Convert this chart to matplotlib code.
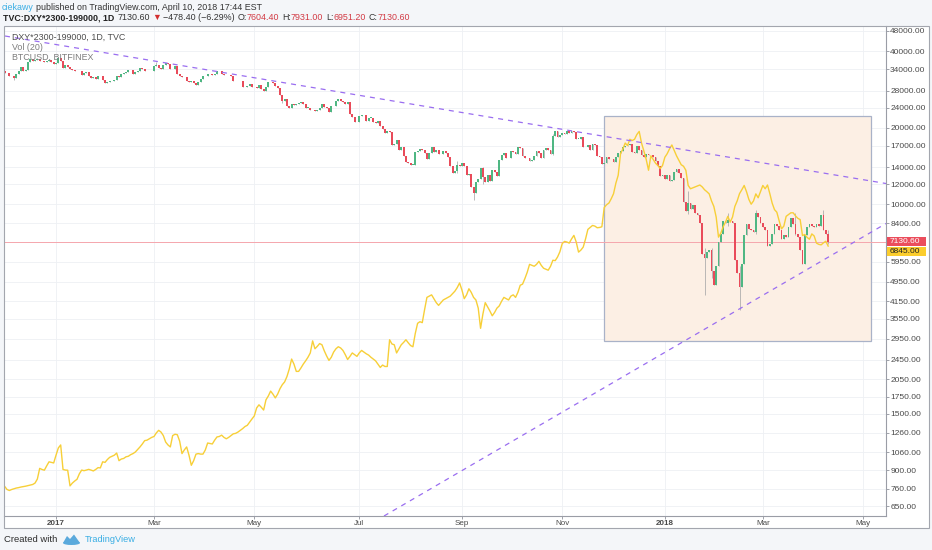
import numpy as np
import pandas as pd
import matplotlib
matplotlib.use('Agg')
import matplotlib.pyplot as plt
from matplotlib.patches import Rectangle, Polygon, Ellipse
from matplotlib.ticker import NullLocator

# ---------------- data (weekday bars, TVC:DXY and BTCUSD Bitfinex) ----------------
bar_start, bar_end = '2016-12-01', '2018-04-10'

# DXY daily closes (the chart plots DXY*2300-199000)
dxy_dec16 = [100.85, 100.75, 100.45, 100.35, 100.15, 100.60, 101.00, 101.60, 101.10, 101.20, 102.25,
             102.70, 102.45, 102.55, 102.70, 102.45, 102.40, 102.35, 102.40, 102.60, 102.30, 101.95]
dxy_jan17 = [102.20, 102.80, 102.40, 101.40, 101.90, 101.60, 101.30, 101.20, 101.00, 101.10, 101.00,
             100.50, 100.80, 100.90, 100.40, 100.20, 100.30, 100.00, 100.40, 100.40, 99.90, 99.55]
dxy_feb17 = [99.70, 99.80, 99.85, 99.90, 100.40, 100.25, 100.70, 100.80, 100.95, 101.20, 101.15,
             100.70, 100.90, 101.00, 101.40, 101.30, 101.00, 101.10, 101.00, 101.10]
dxy_mar17 = [101.75, 101.90, 101.50, 101.30, 101.80, 102.20, 102.00, 101.30, 101.25, 101.70, 100.60,
             100.35, 100.30, 100.30, 99.75, 99.70, 99.75, 99.60, 99.30, 99.65, 100.05, 100.35, 100.35]
dxy_apr17 = [100.60, 100.70, 100.55, 100.70, 101.10, 101.00, 100.60, 100.50, 100.55, 100.55, 100.40,
             99.80, 99.80, 99.75, 99.80, 99.10, 99.05, 99.20, 99.45, 99.05]
dxy_may17 = [99.10, 99.00, 99.35, 98.85, 98.60, 99.05, 99.65, 99.70, 99.60, 99.20, 98.95, 98.20,
             97.55, 97.80, 97.15, 96.95, 97.30, 97.20, 97.25, 97.40, 97.45, 97.30, 96.95]
dxy_jun17 = [96.95, 96.75, 96.70, 96.60, 96.70, 96.95, 97.25, 97.00, 96.95, 96.55, 97.10, 97.15,
             97.55, 97.75, 97.55, 97.45, 97.25, 97.45, 96.40, 96.10, 95.65, 95.65]
dxy_jul17 = [96.20, 96.25, 96.30, 95.80, 96.05, 96.05, 95.70, 95.60, 95.75, 95.35, 95.15, 94.80,
             94.95, 94.85, 93.95, 94.00, 94.30, 93.65, 93.85, 93.25, 92.90]
dxy_aug17 = [92.85, 92.75, 92.75, 93.50, 93.55, 93.70, 93.60, 93.45, 93.05, 93.45, 93.80, 93.50,
             93.60, 93.40, 93.35, 93.55, 93.45, 93.20, 92.65, 92.30, 92.40, 92.75, 92.65]
dxy_sep17 = [92.85, 92.65, 92.20, 92.25, 91.60, 91.35, 91.85, 92.00, 92.55, 92.10, 91.85, 92.20,
             91.90, 92.45, 92.35, 92.15, 93.00, 93.30, 93.45, 93.10, 93.10]
dxy_oct17 = [93.55, 93.50, 93.35, 93.85, 93.75, 93.25, 93.10, 93.15, 92.95, 93.00, 93.25, 93.55,
             93.45, 93.15, 93.65, 93.75, 93.65, 93.35, 94.60, 94.95, 94.50, 94.65]
dxy_nov17 = [94.80, 94.75, 94.95, 94.80, 94.95, 94.90, 94.40, 94.40, 94.50, 93.80, 93.85, 93.95,
             93.65, 94.00, 93.95, 93.25, 93.20, 92.80, 92.85, 93.20, 93.05, 93.05]
dxy_dec17 = [92.90, 93.20, 93.45, 93.55, 93.85, 93.90, 93.95, 94.05, 93.50, 93.45, 93.90, 93.60,
             93.30, 93.20, 93.40, 93.30, 93.30, 93.20, 92.95, 92.65, 92.15]
dxy_jan18 = [92.20, 92.00, 92.20, 91.90, 91.95, 92.35, 92.50, 92.30, 92.05, 90.95, 90.60, 90.90,
             90.70, 90.85, 90.55, 90.45, 90.20, 89.30, 89.20, 89.35, 89.40, 88.90, 88.62]
dxy_feb18 = [89.00, 89.60, 89.85, 90.25, 90.20, 90.30, 90.25, 90.20, 89.15, 88.85, 88.58, 89.05,
             89.80, 90.15, 90.00, 89.95, 89.90, 90.55, 90.40, 90.20]
dxy_mar18 = [90.05, 89.95, 89.50, 89.55, 89.85, 90.15, 90.10, 89.95, 89.70, 89.80, 89.75, 90.05,
             90.35, 90.15, 89.85, 89.75, 89.40, 89.05, 89.80, 90.05, 90.15, 90.10]
dxy_apr18 = [90.05, 90.15, 90.10, 90.45, 89.95, 89.83, 89.622]
dxy_first_open = 101.00
# visible wick extremes (date: (high, low)) in DXY units
dxy_wicks = {
    '2016-12-07': (100.40, 99.95), '2017-01-03': (103.00, 102.20), '2017-03-02': (102.25, 101.70),
    '2017-05-17': (98.20, 97.35), '2017-08-30': (92.95, 92.30), '2017-09-08': (91.60, 91.05),
    '2017-09-14': (92.60, 91.75), '2017-10-26': (94.70, 93.30), '2018-01-16': (91.40, 90.50),
    '2018-01-25': (89.45, 88.44), '2018-01-30': (89.45, 88.75), '2018-02-08': (90.55, 90.10),
    '2018-02-15': (89.00, 88.19), '2018-02-26': (90.65, 89.85), '2018-03-21': (90.55, 89.80),
    '2018-04-06': (90.65, 90.00), '2018-04-10': (89.97, 89.544),
}

# BTCUSD closes on the same bars
btc_dec16 = [776, 755, 748, 755, 760, 765, 768, 772, 775, 778, 782, 786, 790, 800, 830, 914, 905, 899,
             935, 970, 965, 960]
btc_jan17 = [1030, 1100, 1130, 905, 900, 899, 780, 800, 815, 828, 870, 900, 895, 900, 906, 900, 893,
             905, 920, 918, 970, 965]
btc_feb17 = [990, 1010, 1020, 1030, 1050, 980, 995, 1000, 1015, 1020, 1035, 1045, 1060, 1085, 1110,
             1140, 1175, 1180, 1195, 1210]
btc_mar17 = [1220, 1260, 1290, 1270, 1230, 1160, 1130, 1110, 1230, 1245, 1240, 1170, 1045, 1080, 1110,
             1030, 940, 980, 1040, 1045, 1040, 1040, 1080]
btc_apr17 = [1150, 1145, 1140, 1180, 1215, 1220, 1235, 1210, 1195, 1210, 1230, 1250, 1255, 1270, 1290,
             1310, 1335, 1350, 1390, 1430]
btc_may17 = [1470, 1580, 1625, 1590, 1550, 1700, 1760, 1840, 1790, 1730, 1790, 1880, 1950, 2000, 2100,
             2250, 2460, 2350, 2200, 2200, 2270, 2350, 2420]
btc_jun17 = [2500, 2600, 2900, 2700, 2760, 2830, 2800, 2650, 2530, 2430, 2500, 2620, 2700, 2750, 2720,
             2660, 2560, 2450, 2520, 2600, 2560, 2520]
btc_jul17 = [2600, 2660, 2620, 2580, 2550, 2500, 2460, 2420, 2350, 2280, 2330, 2300, 2300, 2930, 2820,
             2800, 2600, 2700, 2800, 2860, 2930]
btc_aug17 = [2850, 2780, 2750, 3100, 3400, 3450, 3420, 3850, 4300, 4350, 4400, 4250, 4100, 4000, 4100,
             4200, 4250, 4300, 4350, 4450, 4550, 4700, 4900]
btc_sep17 = [4600, 4250, 4400, 4650, 4500, 4300, 4200, 3900, 3250, 3700, 4100, 3950, 3800, 3640, 3750,
             3900, 3980, 4150, 4300, 4250, 4200]
btc_oct17 = [4350, 4400, 4300, 4500, 4800, 4850, 5100, 5400, 5800, 5750, 5700, 5800, 5960, 5750, 5600,
             5550, 5500, 5700, 6020, 6000, 6200, 6500]
btc_nov17 = [7000, 7140, 7100, 7030, 7300, 7540, 7100, 6480, 6600, 6780, 7300, 7960, 8100, 8250, 8200,
             8080, 8100, 8150, 9700, 9950, 10100, 10500]
btc_dec17 = [11000, 12100, 13000, 15800, 16500, 17400, 17000, 18000, 17800, 18000, 18800, 19330, 17400,
             16200, 15000, 13600, 15500, 15000, 14500, 14200, 13800]
btc_jan18 = [14200, 15300, 15800, 16500, 17100, 16300, 15500, 14900, 14300, 14100, 13600, 11850, 11500,
             11600, 11700, 11800, 11900, 11700, 11400, 11200, 10980, 10300, 9800]
btc_feb18 = [8900, 7420, 7700, 8150, 8500, 8960, 8500, 8900, 9800, 10300, 11000, 11400, 11850, 11200,
             10450, 10000, 10300, 10980, 10600, 11200]
btc_mar18 = [11850, 11500, 11900, 11000, 10100, 9520, 9300, 8600, 8000, 8200, 8960, 9100, 9250, 9250,
             9000, 8800, 8700, 7530, 7600, 7400, 7280, 7640]
btc_apr18 = [7500, 7030, 6950, 6920, 7050, 7150, 6845]

tick_dates = ['2017-01-02', '2017-03-01', '2017-05-01', '2017-07-03', '2017-09-01', '2017-11-01',
              '2018-01-02', '2018-03-01', '2018-05-01']
tick_labels = ['2017', 'Mar', 'May', 'Jul', 'Sep', 'Nov', '2018', 'Mar', 'May']
price_ticks = [48000, 40000, 34000, 28000, 24000, 20000, 17000, 14000, 12000, 10000, 8400, 5950, 4950,
               4150, 3550, 2950, 2450, 2050, 1750, 1500, 1260, 1060, 900, 760, 650]
last_close = 7130.60
btc_last = 6845.00

# drawings: (bar index, price)
upper_trend = [(0.13, 45870), (377.8, 12060)]
lower_trend = [(162.6, 593.8), (377.8, 8394)]
box_corners = [(256.9, 2885), (371.3, 22224)]

# ---------------- build ----------------
dxy_close = (dxy_dec16 + dxy_jan17 + dxy_feb17 + dxy_mar17 + dxy_apr17 + dxy_may17 + dxy_jun17 +
             dxy_jul17 + dxy_aug17 + dxy_sep17 + dxy_oct17 + dxy_nov17 + dxy_dec17 + dxy_jan18 +
             dxy_feb18 + dxy_mar18 + dxy_apr18)
btc_close = (btc_dec16 + btc_jan17 + btc_feb17 + btc_mar17 + btc_apr17 + btc_may17 + btc_jun17 +
             btc_jul17 + btc_aug17 + btc_sep17 + btc_oct17 + btc_nov17 + btc_dec17 + btc_jan18 +
             btc_feb18 + btc_mar18 + btc_apr18)

all_days = pd.bdate_range(bar_start, '2018-06-29')
bars = pd.bdate_range(bar_start, bar_end)
n = len(bars)
assert len(dxy_close) == n and len(btc_close) == n, (len(dxy_close), len(btc_close), n)


def syn(v):
    return np.asarray(v, dtype=float) * 2300 - 199000


c = syn(dxy_close)
o = np.r_[syn(dxy_first_open), c[:-1]]
hi = np.maximum(o, c)
lo = np.minimum(o, c)
for d, (h, l) in dxy_wicks.items():
    i = bars.get_loc(pd.Timestamp(d))
    hi[i] = max(hi[i], syn(h))
    lo[i] = min(lo[i], syn(l))
x = np.arange(n)
up = c >= o

W, H = 932, 550
FONT = ['Liberation Sans', 'DejaVu Sans']
plt.rcParams['font.family'] = FONT


def FX(px):
    return px / W


def FY(py):
    return 1 - py / H


fig = plt.figure(figsize=(W / 100, H / 100), dpi=100)
fig.patch.set_facecolor('#f4f6f9')

# chart frame background
fig.patches.append(Rectangle((FX(4), FY(528)), (929 - 4) / W, (528 - 26) / H, transform=fig.transFigure,
                             facecolor='white', edgecolor='none', zorder=-5))

ax = fig.add_axes([FX(4), FY(516), (886 - 4) / W, (516 - 26) / H])
ax.patch.set_alpha(0)
ax.set_yscale('log')
ax.set_ylim(593.8, 50220)
ax.set_xlim(-0.3, 377.8)

tick_x = [all_days.get_loc(pd.Timestamp(d)) for d in tick_dates]
ax.set_xticks(tick_x)
ax.set_xticklabels(tick_labels)
ax.set_yticks(price_ticks)
ax.set_yticklabels([f'{v:.2f}' for v in price_ticks])
ax.yaxis.set_minor_locator(NullLocator())
ax.xaxis.set_minor_locator(NullLocator())
ax.yaxis.tick_right()
ax.grid(True, color='#eef0f4', lw=0.6, zorder=0)
ax.set_axisbelow(True)
ax.tick_params(axis='y', which='major', length=2, width=0.6, color='#8f939c', labelsize=6.0,
               labelcolor='#4a4a4a', pad=1.0)
ax.tick_params(axis='x', which='major', length=2, width=0.6, color='#8f939c', labelsize=5.8,
               labelcolor='#4a4a4a', pad=1.2)
for lab in ax.get_xticklabels():
    if lab.get_text().isdigit():
        lab.set_fontweight('bold')
for s in ['left', 'top']:
    ax.spines[s].set_visible(False)
for s in ['right', 'bottom']:
    ax.spines[s].set_color('#9a9da6')
    ax.spines[s].set_linewidth(0.8)

# shaded box
(bx0, by0), (bx1, by1) = box_corners
ax.add_patch(Rectangle((bx0, by0), bx1 - bx0, by1 - by0, facecolor='#fcefe4', edgecolor='#a9b2c8',
                       lw=0.9, zorder=1))

# last price line
ax.axhline(last_close, color='#f5a6ad', lw=0.7, zorder=2)

# candles
ax.vlines(x, lo, hi, color='#a8a8a8', lw=0.55, zorder=3)
body_bot = np.minimum(o, c)
body_h = np.maximum(np.abs(c - o), body_bot * 0.0016)
ax.bar(x[up], body_h[up], bottom=body_bot[up], width=0.8, color='#4fb783', linewidth=0, zorder=4)
ax.bar(x[~up], body_h[~up], bottom=body_bot[~up], width=0.8, color='#e94b5a', linewidth=0, zorder=4)

# BTC line
ax.plot(x, btc_close, color='#f7cf38', lw=1.0, zorder=5)

# trend lines
for (x0, y0), (x1, y1) in (upper_trend, lower_trend):
    ax.plot([x0, x1], [y0, y1], color='#9a6ef0', lw=0.9, dashes=(4, 4), zorder=6)

# frame border on top
fig.patches.append(Rectangle((FX(4), FY(528)), (929 - 4) / W, (528 - 26) / H, transform=fig.transFigure,
                             facecolor='none', edgecolor='#a3a6ae', lw=0.8, zorder=10))

fig.canvas.draw()
renderer = fig.canvas.get_renderer()

# price labels on the axis
yp = ax.transData.transform((0, last_close))[1]  # pixels from bottom
bh = 9.6
fig.patches.append(Rectangle((FX(887), (yp - bh / 2) / H), 39 / W, bh / H, transform=fig.transFigure,
                             facecolor='#eb4d5c', edgecolor='none', zorder=11))
fig.text(FX(890), yp / H, f'{last_close:.2f}', color='white', fontsize=6.0, va='center', ha='left',
         zorder=12)
yb = yp - bh - 0.4
fig.patches.append(Rectangle((FX(887), (yb - bh / 2) / H), 39 / W, bh / H, transform=fig.transFigure,
                             facecolor='#fbcd2d', edgecolor='none', zorder=11))
fig.text(FX(890), yb / H, f'{btc_last:.2f}', color='#222222', fontsize=6.0, va='center', ha='left',
         zorder=12)


def inline(segs, x0, ycen, size):
    xx = x0
    for txt, col, wt, gap in segs:
        t = fig.text(FX(xx), FY(ycen), txt, color=col, fontsize=size, fontweight=wt, va='center',
                     ha='left', family=FONT)
        bb = t.get_window_extent(renderer)
        xx += bb.width + gap


DARK = '#333333'
RED = '#d23a44'
inline([('ciekawy', '#3aaee4', 'normal', 2.6),
        ('published on TradingView.com, April 10, 2018 17:44 EST', DARK, 'normal', 0)], 1.5, 7.2, 6.4)
inline([('TVC:DXY*2300-199000, 1D', '#222222', 'bold', 3.5),
        ('7130.60', DARK, 'normal', 2.0),
        ('\u25bc', '#d32f2f', 'normal', 2.0),
        ('\u2212478.40 (\u22126.29%)', DARK, 'normal', 2.8),
        ('O:', DARK, 'normal', 0), ('7604.40', RED, 'normal', 2.8),
        ('H:', DARK, 'normal', 0), ('7931.00', RED, 'normal', 2.8),
        ('L:', DARK, 'normal', 0), ('6951.20', RED, 'normal', 2.8),
        ('C:', DARK, 'normal', 0), ('7130.60', RED, 'normal', 0)], 3.0, 17.6, 6.4)

# legend inside the pane
fig.text(FX(11.5), FY(37), 'DXY*2300-199000, 1D, TVC', color='#4d4d4d', fontsize=6.4, va='center')
fig.text(FX(11.5), FY(47.3), 'Vol (20)', color='#7d7d7d', fontsize=6.4, va='center')
fig.text(FX(11.5), FY(57.8), 'BTCUSD, BITFINEX', color='#7d7d7d', fontsize=6.4, va='center')

# footer
fig.text(FX(4), FY(539.5), 'Created with', color='#2d2d2d', fontsize=6.8, va='center')
logo = Polygon([[FX(63), FY(543)], [FX(67), FY(536)], [FX(70), FY(539)], [FX(74), FY(534.5)],
                [FX(80), FY(543)]], closed=True, transform=fig.transFigure, facecolor='#5aa9dc',
               edgecolor='none', zorder=5)
fig.patches.append(logo)
fig.patches.append(Ellipse((FX(71.5), FY(543)), 17 / W, 4 / H, transform=fig.transFigure,
                           facecolor='#5aa9dc', edgecolor='none', zorder=5))
fig.text(FX(85), FY(539.5), 'TradingView', color='#3aaee4', fontsize=6.7, va='center')

fig.savefig('out.png', dpi=100, facecolor=fig.get_facecolor())
